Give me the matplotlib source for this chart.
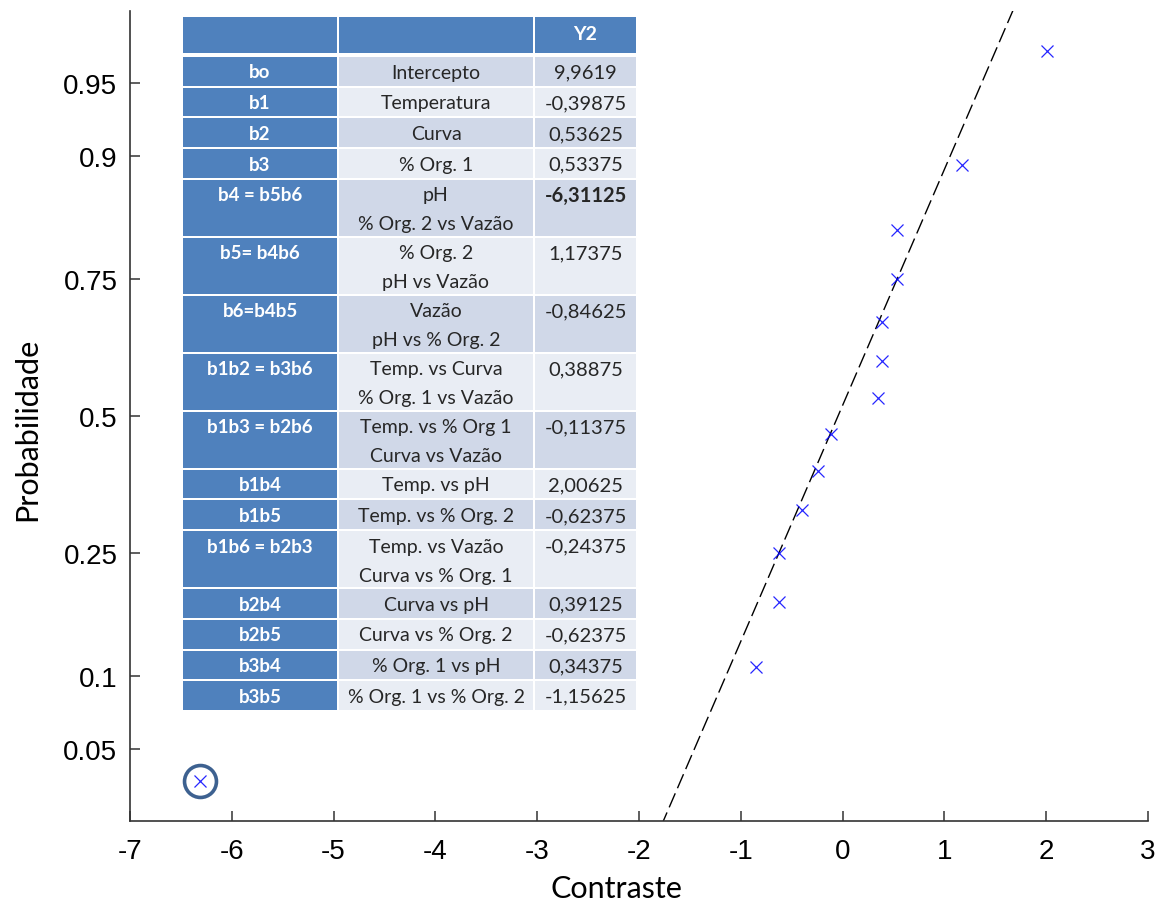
import numpy as np
import matplotlib
matplotlib.use("Agg")
import matplotlib.pyplot as plt
from matplotlib.patches import Rectangle
from statistics import NormalDist

# effect table (Y2 response)
effects = ["bo", "b1", "b2", "b3", "b4 = b5b6", "b5= b4b6", "b6=b4b5",
           "b1b2 = b3b6", "b1b3 = b2b6", "b1b4", "b1b5", "b1b6 = b2b3",
           "b2b4", "b2b5", "b3b4", "b3b5"]
factors = ["Intercepto", "Temperatura", "Curva", "% Org. 1",
           "pH\n% Org. 2 vs Vazão", "% Org. 2\npH vs Vazão",
           "Vazão\npH vs % Org. 2", "Temp. vs Curva\n% Org. 1 vs Vazão",
           "Temp. vs % Org 1\nCurva vs Vazão", "Temp. vs pH",
           "Temp. vs % Org. 2", "Temp. vs Vazão\nCurva vs % Org. 1",
           "Curva vs pH", "Curva vs % Org. 2", "% Org. 1 vs pH",
           "% Org. 1 vs % Org. 2"]
values = [9.9619, -0.39875, 0.53625, 0.53375, -6.31125, 1.17375, -0.84625,
          0.38875, -0.11375, 2.00625, -0.62375, -0.24375, 0.39125, -0.62375,
          0.34375, -1.15625]
highlight = "b4 = b5b6"

# contrasts on the normal plot (b1 .. b3b4)
contrasts = np.array(values[1:15])

prob_ticks = [0.05, 0.1, 0.25, 0.5, 0.75, 0.9, 0.95]
x_ticks = list(range(-7, 4))

nd = NormalDist()
n = len(contrasts)
order = np.argsort(contrasts, kind="stable")
xs = contrasts[order]
zs = np.array([nd.inv_cdf((i - 0.5) / n) for i in range(1, n + 1)])

# reference line through the quartiles
q1, q3 = np.percentile(contrasts, [25, 75], method="hazen")
z1, z3 = nd.inv_cdf(0.25), nd.inv_cdf(0.75)
slope = (z3 - z1) / (q3 - q1)
line_x = np.array([-7, 3])
line_z = z1 + slope * (line_x - q1)

fig = plt.figure(figsize=(11.63, 9.03), dpi=100)
ax = fig.add_axes([130 / 1163, 1 - 822 / 903, 1018 / 1163, 810 / 903])

ax.plot(line_x, line_z, color="black", lw=1.0, ls=(0, (11, 4)))
ax.plot(xs, zs, "x", color="blue", ms=8, mew=0.9, alpha=0.85)

# ring around the dominant effect
imax = np.argmax(np.abs(xs))
ax.plot(xs[imax], zs[imax], "o", mfc="none", mec="#3d6190", ms=23, mew=2.6)

ax.set_xlim(-7, 3)
ax.set_ylim(-2.0, 2.0)
ax.set_xticks(x_ticks)
ax.set_xticklabels([str(t) for t in x_ticks])
ax.set_yticks([nd.inv_cdf(p) for p in prob_ticks])
ax.set_yticklabels([f"{p:g}" for p in prob_ticks])
ax.spines["top"].set_visible(False)
ax.spines["right"].set_visible(False)
for s in ("left", "bottom"):
    ax.spines[s].set_color("#333333")
    ax.spines[s].set_linewidth(1.2)
ax.tick_params(direction="in", length=7, width=1.1, color="#333333",
               labelsize=20)
ax.tick_params(axis="y", pad=9)
ax.tick_params(axis="x", pad=12)
for lab in ax.get_xticklabels() + ax.get_yticklabels():
    lab.set_family("Liberation Sans")

ax.set_xlabel("Contraste", family="Lato", fontsize=22)
ax.set_ylabel("Probabilidade", family="Lato", fontsize=22)
ax.xaxis.set_label_coords(0.478, -0.065)
ax.yaxis.set_label_coords(-0.087, 0.485)

# overlay table, drawn in pixel units
W, H = 1163, 903
cols = [(183, 154), (339, 194), (535, 101)]
dark = "#4f81bd"
shades = ["#d0d8e8", "#e9edf4"]
line_h = 29
txt_kw = dict(family="Lato", fontsize=14, ha="center", va="center")


def cell(x, y, w, h, color):
    fig.add_artist(Rectangle((x / W, 1 - (y + h) / H), w / W, h / H,
                             transform=fig.transFigure, fc=color, ec="none"))


def text(x, y, s, **kw):
    fig.text(x / W, 1 - y / H, s, **{**txt_kw, **kw})


# header row
for cx, cw in cols:
    cell(cx, 18, cw, 36, dark)
text(cols[2][0] + cols[2][1] / 2, 35, "Y2", color="white", weight="bold")

y = 58
for i, (eff, fac, val) in enumerate(zip(effects, factors, values)):
    lines = fac.split("\n")
    h = 28.7 if len(lines) == 1 else 56
    cell(cols[0][0], y, cols[0][1], h, dark)
    cell(cols[1][0], y, cols[1][1], h, shades[i % 2])
    cell(cols[2][0], y, cols[2][1], h, shades[i % 2])
    ty = y + 15
    text(cols[0][0] + cols[0][1] / 2, ty, eff, color="white", weight="bold",
         fontsize=13.5)
    for k, ln in enumerate(lines):
        text(cols[1][0] + cols[1][1] / 2, ty + k * line_h, ln, color="#262626")
    text(cols[2][0] + cols[2][1] / 2, ty, f"{val:g}".replace(".", ","),
         color="#262626", fontsize=14.5,
         weight="bold" if eff == highlight else "normal")
    y += h + 2

fig.savefig("out.png", dpi=100)
